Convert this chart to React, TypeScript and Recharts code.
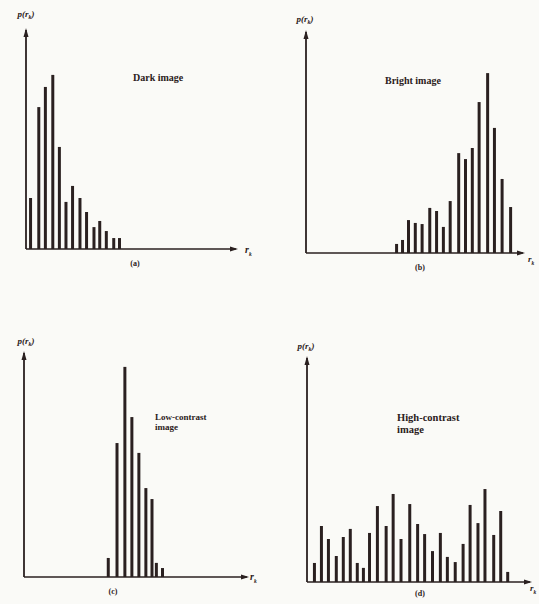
import React from 'react';
import { BarChart, Bar, XAxis, YAxis } from 'recharts';

// ---- data (gray level r_k on 0..255, p(r_k) as % of axis height) ----
const darkLevels = [6, 16, 24, 33, 41, 49, 57, 66, 74, 83, 90, 98, 107, 114];
const darkValues = [23.3, 64.8, 74.0, 79.5, 46.6, 21.5, 28.8, 23.3, 16.9, 10.0, 12.8, 8.2, 5.0, 5.0];

const brightLevels = [107, 114, 121, 129, 137, 146, 154, 162, 170, 180, 188, 196, 204, 214, 222, 231, 241];
const brightValues = [4.1, 5.9, 14.9, 13.6, 13.1, 20.4, 19.0, 11.8, 23.5, 45.2, 42.5, 47.5, 68.3, 81.4, 56.6, 33.5, 20.8];

const lowLevels = [96, 106, 115, 123, 131, 139, 146, 151, 158];
const lowValues = [8.5, 59.8, 93.8, 71.4, 55.4, 39.7, 34.8, 6.3, 4.0];

const highLevels = [8, 16, 24, 33, 41, 49, 57, 64, 71, 80, 90, 98, 107, 117, 126, 134, 143, 152, 160, 169, 178, 186, 195, 203, 213, 221, 229];
const highValues = [8.5, 25.0, 19.2, 11.6, 20.1, 23.7, 8.5, 6.3, 21.9, 33.9, 25.0, 39.3, 19.2, 34.8, 25.9, 21.4, 13.8, 21.9, 11.2, 8.9, 17.0, 34.4, 26.3, 41.5, 21.0, 31.7, 4.5];

const panelTitles = [['Dark image'], ['Bright image'], ['Low-contrast', 'image'], ['High-contrast', 'image']];
const panelCaptions = ['(a)', '(b)', '(c)', '(d)'];
const levelDomain: [number, number] = [0, 255];
const probDomain: [number, number] = [0, 100];

// ---- layout / style ----
const INK = '#2a2020';
const BG = '#fafaf7';
const FONT = '"Liberation Serif", "DejaVu Serif", serif';

type Box = { l: number; t: number; r: number; b: number };

const layouts = [
  {
    plot: { l: 26, t: 30, r: 236, b: 249 },
    ylab: { x: 26, y: 15 },
    title: { x: 133, y: 78, size: 10 },
    rk: { x: 245, y: 251, size: 10 },
    cap: { x: 135, y: 264 },
  },
  {
    plot: { l: 306, t: 32, r: 523, b: 253 },
    ylab: { x: 305, y: 20 },
    title: { x: 385, y: 81, size: 10 },
    rk: { x: 528, y: 261, size: 9 },
    cap: { x: 420, y: 268 },
  },
  {
    plot: { l: 24, t: 353, r: 247, b: 577 },
    ylab: { x: 26, y: 342 },
    title: { x: 155, y: 422, size: 9 },
    rk: { x: 250, y: 578, size: 10 },
    cap: { x: 113, y: 592 },
  },
  {
    plot: { l: 307, t: 358, r: 530, b: 582 },
    ylab: { x: 306, y: 347 },
    title: { x: 397, y: 424, size: 10.5 },
    rk: { x: 530, y: 590, size: 9 },
    cap: { x: 420, y: 594 },
  },
];

const series = [
  { levels: darkLevels, values: darkValues },
  { levels: brightLevels, values: brightValues },
  { levels: lowLevels, values: lowValues },
  { levels: highLevels, values: highValues },
];

const PAD = 12;

const XArrow = (props: any) => {
  const vb = props.viewBox || {};
  const x = (vb.x ?? 0) + (vb.width ?? 0);
  const y = vb.y ?? 0;
  return <polygon points={`${x + 2},${y} ${x - 6},${y - 2.5} ${x - 6},${y + 2.5}`} fill={INK} />;
};

const YArrow = (props: any) => {
  const vb = props.viewBox || {};
  const x = (vb.x ?? 0) + (vb.width ?? 0);
  const y = vb.y ?? 0;
  return <polygon points={`${x},${y - 2} ${x - 2.5},${y + 7} ${x + 2.5},${y + 7}`} fill={INK} />;
};

function Histogram({ levels, values, plot }: { levels: number[]; values: number[]; plot: Box }) {
  const data = levels.map((r, i) => ({ r, p: values[i] }));
  const width = plot.r - plot.l + 2 * PAD;
  const height = plot.b - plot.t + 2 * PAD;
  return (
    <div style={{ position: 'absolute', left: plot.l - PAD, top: plot.t - PAD, width, height }}>
      <BarChart
        width={width}
        height={height}
        data={data}
        margin={{ top: PAD, right: PAD, bottom: 0, left: 0 }}
      >
        <XAxis
          dataKey="r"
          type="number"
          domain={levelDomain}
          allowDataOverflow
          tick={false}
          tickLine={false}
          height={PAD}
          axisLine={{ stroke: INK, strokeWidth: 1.6 }}
          label={{ content: (p: any) => <XArrow {...p} /> }}
        />
        <YAxis
          type="number"
          domain={probDomain}
          allowDataOverflow
          tick={false}
          tickLine={false}
          width={PAD}
          axisLine={{ stroke: INK, strokeWidth: 1.8 }}
          label={{ content: (p: any) => <YArrow {...p} /> }}
        />
        <Bar dataKey="p" fill={INK} barSize={3} isAnimationActive={false} />
      </BarChart>
    </div>
  );
}

const txt = (extra: React.CSSProperties): React.CSSProperties => ({
  position: 'absolute',
  fontFamily: FONT,
  color: INK,
  fontWeight: 'bold',
  whiteSpace: 'nowrap',
  lineHeight: 1,
  ...extra,
});

export default function App() {
  return (
    <div
      style={{
        position: 'absolute',
        left: 0,
        top: 0,
        width: 539,
        height: 604,
        background: BG,
        overflow: 'hidden',
      }}
    >
      {layouts.map((lay, i) => (
        <React.Fragment key={i}>
          <Histogram levels={series[i].levels} values={series[i].values} plot={lay.plot} />
          <div style={txt({ left: lay.ylab.x, top: lay.ylab.y, fontSize: 9, fontStyle: 'italic', transform: 'translate(-50%, -50%)' })}>
            p(r<sub style={{ fontSize: 6 }}>k</sub>)
          </div>
          <div style={txt({ left: lay.title.x, top: lay.title.y, fontSize: lay.title.size, transform: 'translateY(-50%)', lineHeight: 1.15 })}>
            {panelTitles[i].map((s, j) => (
              <div key={j}>{s}</div>
            ))}
          </div>
          <div style={txt({ left: lay.rk.x, top: lay.rk.y, fontSize: lay.rk.size, fontStyle: 'italic', transform: 'translateY(-50%)' })}>
            r<sub style={{ fontSize: 5.5 }}>k</sub>
          </div>
          <div style={txt({ left: lay.cap.x, top: lay.cap.y, fontSize: 8, transform: 'translate(-50%, -50%)' })}>
            {panelCaptions[i]}
          </div>
        </React.Fragment>
      ))}
    </div>
  );
}
